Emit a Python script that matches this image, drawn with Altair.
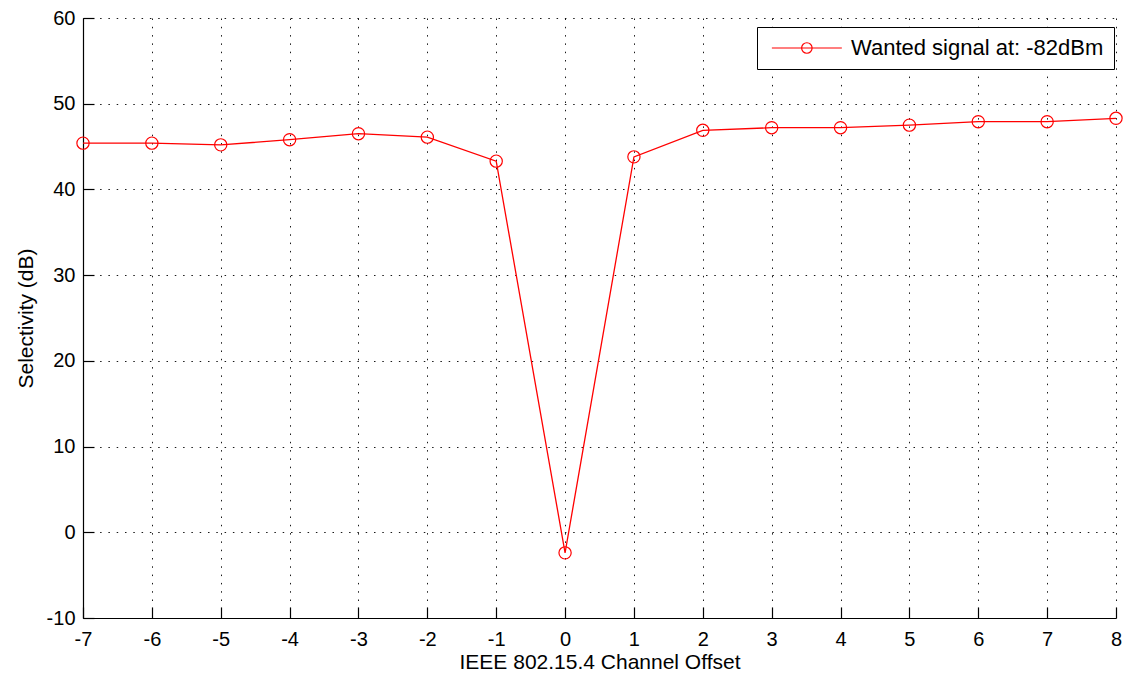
import altair as alt
import pandas as pd

# ---- data ----
offsets = [-7, -6, -5, -4, -3, -2, -1, 0, 1, 2, 3, 4, 5, 6, 7, 8]
selectivity = [45.4, 45.4, 45.2, 45.8, 46.5, 46.1, 43.3, -2.4,
               43.8, 46.9, 47.2, 47.2, 47.5, 47.9, 47.9, 48.3]
series_name = "Wanted signal at: -82dBm"
x_ticks = [-7, -6, -5, -4, -3, -2, -1, 0, 1, 2, 3, 4, 5, 6, 7, 8]
y_ticks = [-10, 0, 10, 20, 30, 40, 50, 60]

df = pd.DataFrame({
    "offset": offsets,
    "sel": selectivity,
    "series": [series_name] * len(offsets),
})

W, H = 1033, 600
FONT = "Liberation Sans"
RED = "#ff0000"

xscale = alt.Scale(domain=[-7, 8], nice=False, zero=False)
yscale = alt.Scale(domain=[-10, 60], nice=False, zero=False)

grid_kw = dict(grid=True, gridColor="black", gridDash=[1.5, 6.8], gridWidth=1, gridOpacity=0.9)
lab_kw = dict(labelFont=FONT, labelFontSize=20, labelColor="black",
              labelExpr="'' + datum.value",
              titleFont=FONT, titleFontSize=21, titleColor="black", titleFontWeight="normal",
              domainColor="black", domainWidth=1.2)

legend_symbol = "M-0.7,0H7.3M3.9,0A0.6,0.6 0 1,1 2.7,0A0.6,0.6 0 1,1 3.9,0"

color = alt.Color(
    "series:N",
    scale=alt.Scale(domain=[series_name], range=[RED]),
    legend=alt.Legend(
        title=None, orient="none", legendX=674, legendY=9,
        symbolType=legend_symbol, symbolSize=306, symbolStrokeWidth=1.2,
        symbolFillColor="transparent", symbolStrokeColor=RED,
        labelFont=FONT, labelFontSize=22, labelColor="black", labelOffset=62,
        labelLimit=500,
        padding=10, strokeColor="black", fillColor="white", cornerRadius=0,
    ),
)

line = alt.Chart(df).mark_line(strokeWidth=1.3).encode(
    x=alt.X("offset:Q", scale=xscale,
            axis=alt.Axis(orient="bottom", values=x_ticks, ticks=False, labelPadding=11,
                          title="IEEE 802.15.4 Channel Offset", titlePadding=2,
                          labelFlush=False, labelOverlap=False, **grid_kw, **lab_kw)),
    y=alt.Y("sel:Q", scale=yscale,
            axis=alt.Axis(orient="left", values=y_ticks, ticks=False, labelPadding=8,
                          title="Selectivity (dB)", titlePadding=10,
                          labelFlush=False, labelOverlap=False, **grid_kw, **lab_kw)),
    color=color,
)

points = alt.Chart(df).mark_point(shape="circle", filled=False, size=150,
                                  strokeWidth=1.2, color=RED, opacity=1).encode(
    x=alt.X("offset:Q", scale=xscale,
            axis=alt.Axis(orient="top", offset=-H, values=x_ticks, labels=False,
                          domain=False, grid=False, ticks=True, tickSize=11,
                          tickColor="black", tickWidth=1.2, title=None)),
    y=alt.Y("sel:Q", scale=yscale,
            axis=alt.Axis(orient="right", offset=-W, values=y_ticks, labels=False,
                          domain=False, grid=False, ticks=True, tickSize=11,
                          tickColor="black", tickWidth=1.2, title=None)),
)

chart = (
    alt.layer(line, points)
    .resolve_axis(x="independent", y="independent")
    .properties(
        width=W, height=H,
        autosize=alt.AutoSizeParams(type="none"),
        padding={"left": 75, "top": 10, "right": 7, "bottom": 55},
        background="white",
    )
    .configure_view(stroke=None)
)

chart.save("out.html", embed_options={"renderer": "svg", "actions": False})
